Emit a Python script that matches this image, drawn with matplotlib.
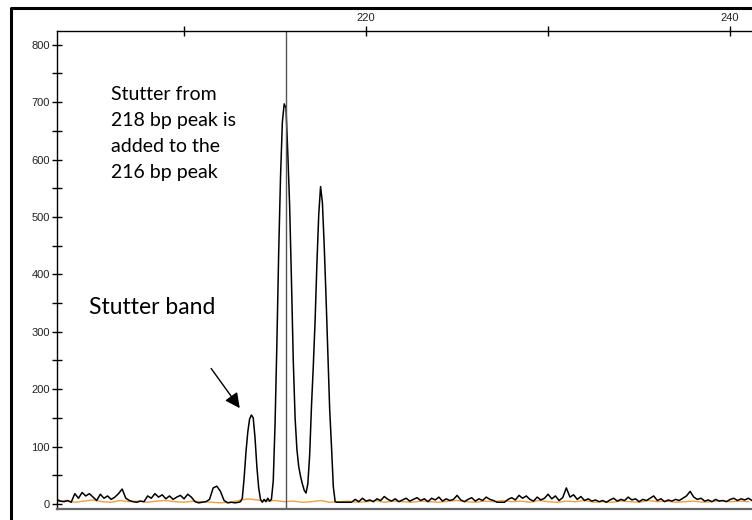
import numpy as np
import matplotlib
matplotlib.use("Agg")
import matplotlib.pyplot as plt
from matplotlib.lines import Line2D

# -----------------------------------------------------------
# Data (size in bp, signal in RFU)
# -----------------------------------------------------------
# noise before the peaks: 203.0 .. 212.8 bp, every 0.2 bp
rfu_pre = [
    8, 5, 4, 6, 3, 18, 10, 20, 14, 18,
    12, 6, 17, 10, 14, 8, 12, 18, 26, 10,
    6, 4, 3, 5, 4, 14, 10, 18, 12, 16,
    9, 14, 8, 12, 15, 9, 17, 12, 4, 2,
    3, 4, 8, 28, 31, 22, 6, 2, 3, 2,
]
# stutter + allele peaks: 213.0 .. 218.4 bp, every 0.1 bp
rfu_peaks = [
    3, 4, 10, 45, 90, 125, 148, 155, 150, 115,
    65, 28, 8, 3, 8, 4, 10, 5, 8, 40,
    140, 280, 440, 570, 665, 697, 690, 610, 520, 390,
    250, 150, 95, 65, 48, 35, 24, 19, 35, 85,
    170, 240, 320, 420, 505, 553, 525, 450, 360, 260,
    165, 100, 30, 4, 3,
]
# noise after the peaks: 218.6 .. 241.2 bp, every 0.2 bp
rfu_post = [
    3, 3, 3, 3, 8, 4, 10, 5, 7, 4,
    9, 6, 13, 8, 5, 9, 4, 7, 10, 5,
    8, 11, 6, 9, 4, 10, 7, 12, 5, 9,
    6, 8, 15, 7, 4, 8, 11, 5, 9, 6,
    12, 8, 6, 3, 3, 3, 8, 11, 7, 15,
    10, 14, 8, 5, 12, 7, 10, 17, 9, 14,
    6, 11, 28, 12, 16, 8, 13, 6, 9, 5,
    7, 4, 6, 3, 7, 10, 5, 8, 6, 12,
    7, 9, 4, 8, 6, 10, 14, 6, 9, 4,
    7, 5, 8, 6, 10, 14, 22, 12, 8, 10,
    5, 7, 4, 8, 5, 6, 4, 8, 10, 6,
    9, 7, 10, 6,
]
# second (orange) dye channel: 203.0 .. 241.0 bp, every 0.5 bp
rfu_orange = [
    4, 6, 3, 5, 7, 4, 3, 6, 4, 5,
    3, 5, 6, 4, 3, 5, 4, 3, 2, 3,
    6, 9, 7, 5, 6, 4, 5, 3, 4, 6,
    3, 4, 5, 3, 4, 6, 3, 5, 4, 3,
    5, 4, 3, 5, 6, 4, 3, 5, 4, 6,
    4, 5, 3, 6, 4, 3, 5, 4, 6, 3,
    4, 3, 5, 4, 3, 6, 4, 5, 3, 4,
    5, 3, 4, 6, 4, 5, 4,
]
cursor_bp = 215.6

bp_pre = 203.0 + 0.2 * np.arange(len(rfu_pre))
bp_peaks = 213.0 + 0.1 * np.arange(len(rfu_peaks))
bp_post = 218.6 + 0.2 * np.arange(len(rfu_post))
bp_black = np.concatenate([bp_pre, bp_peaks, bp_post])
rfu_black = np.array(rfu_pre + rfu_peaks + rfu_post)
bp_orange = 203.0 + 0.5 * np.arange(len(rfu_orange))

# -----------------------------------------------------------
# Figure
# -----------------------------------------------------------
fig = plt.figure(figsize=(7.52, 5.2), dpi=100)
ax = fig.add_axes([0.0753, 0.0212, 0.9247, 0.9192])

ax.plot(bp_orange, rfu_orange, color="#f0a040", lw=1.0)
ax.plot(bp_black, rfu_black, color="black", lw=1.1)
ax.axvline(cursor_bp, color="#555555", lw=1.0)

ax.set_xlim(203.0, 241.2)
ax.set_ylim(-8.7, 824)

ax.xaxis.tick_top()
ax.set_xticks([210, 220, 230, 240])
ax.set_xticklabels(["", "220", "", "240"])
ax.set_yticks(range(0, 801, 100))
ax.set_yticks(range(50, 800, 100), minor=True)

for lab in ax.get_xticklabels() + ax.get_yticklabels():
    lab.set_fontfamily("Liberation Sans")
    lab.set_fontsize(8)
    lab.set_color("#222222")

ax.tick_params(axis="x", which="major", direction="inout", length=7, width=1, pad=2)
ax.tick_params(axis="y", which="both", direction="inout", length=7, width=1, pad=1.5)

ax.spines["right"].set_visible(False)
ax.spines["bottom"].set_color("#666666")
ax.spines["bottom"].set_linewidth(1.6)
ax.spines["left"].set_linewidth(1.0)
ax.spines["top"].set_linewidth(1.0)

# annotations
ann_font = ["Lato", "DejaVu Sans"]
ax.text(206.0, 729, "Stutter from\n218 bp peak is\nadded to the\n216 bp peak",
        family=ann_font, fontsize=14, va="top", ha="left", linespacing=1.66)
ax.text(204.8, 343, "Stutter band", family=ann_font, fontsize=16.5,
        va="center", ha="left")
ax.annotate("", xy=(213.15, 163), xytext=(211.4, 240),
            arrowprops=dict(arrowstyle="-|>,head_length=0.9,head_width=0.45",
                            color="black", lw=1.0))

# outer frame of the original page figure
fig.add_artist(Line2D([11 / 752, 11 / 752, 1.01], [-0.01, 1 - 8 / 520, 1 - 8 / 520],
                      transform=fig.transFigure, color="black", lw=2.2))

fig.savefig("out.png", dpi=100)
